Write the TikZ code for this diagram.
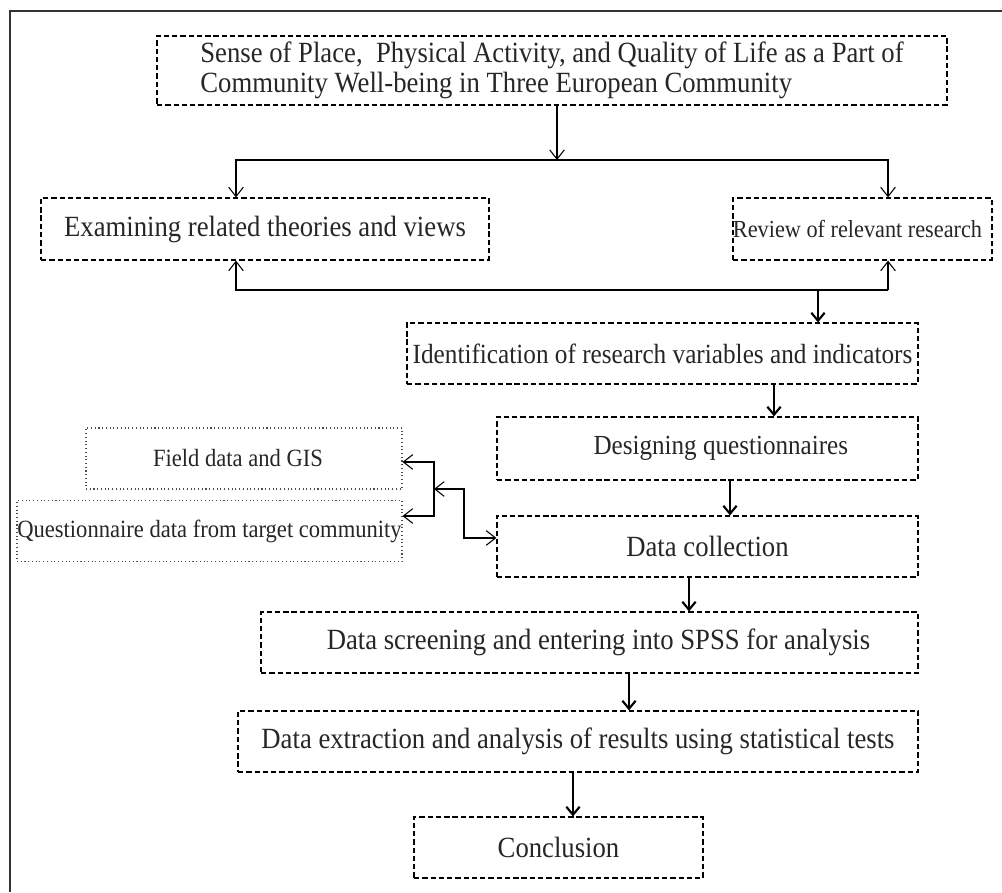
\documentclass[tikz,border=0pt]{standalone}
\usepackage{fontspec}
\setmainfont{Liberation Serif}[FakeStretch=0.91]
\usetikzlibrary{arrows.meta}

\tikzset{every picture/.style={line width=0.75pt}}
\tikzset{
  stepbox/.style={draw, dash pattern={on 4pt off 2.2pt}, line width=0.9pt, inner sep=0pt,
    minimum height=45.75pt, text=black!85, font=\fontsize{22pt}{23pt}\selectfont},
  sourcebox/.style={draw=black!70, dotted, line width=0.8pt, inner sep=0pt,
    minimum height=45.75pt, text=black!85},
  thinarr/.style={-{Straight Barb[length=7pt,width=11pt]}, line width=0.8pt},
  thickarr/.style={-{Straight Barb[length=6pt,width=10pt,line width=1.6pt]}, line width=1.9pt},
}

\begin{document}
\begin{tikzpicture}[x=0.75pt,y=0.75pt,yscale=-1,xscale=1]
\useasboundingbox (0,0) rectangle (1002,892);

%Frame
\draw [color=black!80, line width=1.4pt] (10,892) -- (10,11) -- (1002,11) ;

% Title box
\node [stepbox, minimum width=592.5pt, minimum height=51.75pt, align=left] (topic) at (552,70.5)
  {Sense of Place,~ Physical Activity, and Quality of Life as a Part of\\Community Well-being in Three European Community};
% Review boxes
\node [stepbox, minimum width=336pt, minimum height=46.5pt] (exam) at (265,229) {Examining related theories and views};
\node [stepbox, minimum width=194.25pt, minimum height=46.5pt, font=\fontsize{18.35pt}{20pt}\selectfont] (review) at (862.5,229) {\hspace*{-7.5pt}Review of relevant research};
% Main steps
\node [stepbox, minimum width=383.25pt, font=\fontsize{20.8pt}{22pt}\selectfont] (ident) at (662.5,353.5) {Identification of research variables and indicators};
\node [stepbox, minimum width=315.75pt, minimum height=47.25pt, font=\fontsize{20.7pt}{22pt}\selectfont] (design) at (707.5,448.5) {\hspace*{20pt}Designing questionnaires};
\node [stepbox, minimum width=315.75pt] (collect) at (707.5,546.5) {Data collection};
\node [stepbox, minimum width=492.75pt] (screen) at (589.5,642.5) {\hspace*{13.5pt}Data screening and entering into SPSS for analysis};
\node [stepbox, minimum width=510pt] (extract) at (578,741.5) {Data extraction and analysis of results using statistical tests};
\node [stepbox, minimum width=216.75pt] (concl) at (558.5,847.5) {Conclusion};
% Data sources
\node [sourcebox, minimum width=237pt, font=\fontsize{18.6pt}{20pt}\selectfont] (field) at (244,458.5) {\hspace*{-9pt}Field data and GIS};
\node [sourcebox, minimum width=288.75pt, font=\fontsize{18.6pt}{20pt}\selectfont] (quest) at (209.5,531) {Questionnaire data from target community};

% Junction points
\coordinate (split) at (557,160);
\coordinate (topL) at (236,160);
\coordinate (topR) at (888,160);
\coordinate (botL) at (236,290);
\coordinate (botR) at (888,290);
\coordinate (join) at (818,290);
\coordinate (fork) at (434,489);
\coordinate (jog) at (464,489);
\coordinate (c1) at (774,0);
\coordinate (c2) at (730,0);
\coordinate (c3) at (689,0);
\coordinate (c4) at (629,0);
\coordinate (c5) at (573,0);

% Thin connectors
\draw [thinarr] (topic.south -| split) -- (split) ;
\draw [thinarr] (split) -| (topL |- exam.north) ;
\draw [thinarr] (split) -| (topR |- review.north) ;
\draw [thinarr] (botR) -| (botL |- exam.south) ;
\draw [thinarr] (botR) -- (botR |- review.south) ;
\draw [thinarr] (fork) |- ([yshift=2.6pt]field.east) ;
\draw [thinarr] (fork) |- ([yshift=-11.25pt]quest.east) ;
\draw [thinarr, {Straight Barb[length=7pt,width=11pt]}-{Straight Barb[length=7pt,width=11pt]}] (fork) -- (jog) |- ([yshift=-6.4pt]collect.west) ;

% Thick connectors
\draw [thickarr] (join) -- (join |- ident.north) ;
\draw [thickarr] (ident.south -| c1) -- (design.north -| c1) ;
\draw [thickarr] (design.south -| c2) -- (collect.north -| c2) ;
\draw [thickarr] (collect.south -| c3) -- (screen.north -| c3) ;
\draw [thickarr] (screen.south -| c4) -- (extract.north -| c4) ;
\draw [thickarr] (extract.south -| c5) -- (concl.north -| c5) ;

\end{tikzpicture}
\end{document}
